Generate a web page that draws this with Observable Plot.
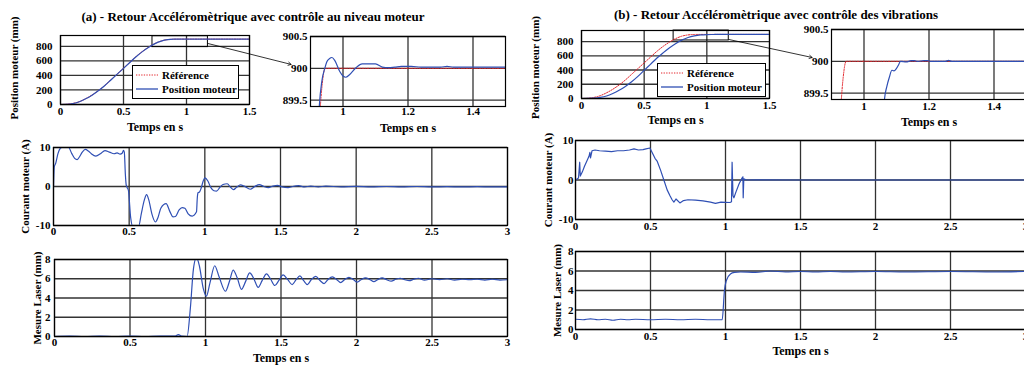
<!DOCTYPE html>
<html><head><meta charset="utf-8">
<script src="https://cdn.jsdelivr.net/npm/d3@7"></script>
<script src="https://cdn.jsdelivr.net/npm/@observablehq/plot@0.6"></script>
<style>
html,body{margin:0;padding:0;background:#fff;overflow:hidden;}
#fig{position:relative;width:1024px;height:365px;font-family:"Liberation Serif","Times New Roman",serif;font-weight:bold;color:#000;}
.title{position:absolute;font-size:13px;white-space:nowrap;transform:translate(-50%,-50%);}
.legend{position:absolute;border:1px solid #000;background:#fff;font-size:11px;box-sizing:border-box;padding:2px 0 0 2px;}
.legend .row{display:flex;align-items:center;height:14px;}
.legend svg{margin-right:3px;}
</style></head><body><div id="fig"></div>
<script>
// ---------- data ----------
const titles = ["(a) - Retour Accéléromètrique avec contrôle au niveau moteur",
                "(b) - Retour Accéléromètrique avec contrôle des vibrations"];
const legendLabels = ["Référence", "Position moteur"];
const xLabel = "Temps en s";
const yLabels = ["Position moteur (mm)", "Courant moteur (A)", "Mesure Laser (mm)"];

const ticksPosX = [0, 0.5, 1, 1.5];
const ticksPosY = [0, 200, 400, 600, 800];
const ticksZoomX = [1, 1.2, 1.4];
const ticksZoomY = [899.5, 900, 900.5];
const ticksTimeX = [0, 0.5, 1, 1.5, 2, 2.5, 3];
const ticksCurY = [-10, 0, 10];
const ticksLaserY = [0, 2, 4, 6, 8];

// reference trajectory (mm)
const reference = [[0,0],[0.05,3],[0.1,15],[0.15,40],[0.2,80],[0.25,130],[0.3,190],[0.35,260],[0.4,340],[0.45,420],[0.5,500],[0.55,580],[0.6,660],[0.65,730],[0.7,790],[0.75,840],[0.8,875],[0.85,893],[0.9,899],[0.95,900],[1.5,900]];
// (a) motor position
const positionA = [[0,0],[0.05,2],[0.1,13],[0.15,38],[0.2,78],[0.25,128],[0.3,188],[0.35,258],[0.4,338],[0.45,418],[0.5,498],[0.55,578],[0.6,658],[0.65,728],[0.7,788],[0.75,838],[0.8,873],[0.85,892],[0.9,899],[0.95,900],[1.5,900]];
// (b) motor position
const positionB = [[0,0],[0.1,5],[0.15,15],[0.2,35],[0.25,70],[0.3,115],[0.35,170],[0.4,235],[0.45,310],[0.5,395],[0.55,480],[0.6,565],[0.65,640],[0.7,710],[0.75,770],[0.8,820],[0.85,857],[0.9,880],[0.95,893],[1.0,898],[1.05,899],[1.1,899.9],[1.5,900]];

// zoom insets (mm)
const zoomReference = [[0.9,897],[0.925,899.0],[0.935,899.7],[0.945,900],[1.5,900]];
const zoomPositionA = [[0.92,898.6],[0.927,899.4],[0.935,899.8],[0.944,900.0],[0.95,900.1],[0.958,900.15],[0.966,900.17],[0.975,900.12],[0.99,899.95],[1.0,899.88],[1.008,899.86],[1.02,899.9],[1.04,900.01],[1.059,900.07],[1.08,900.07],[1.1,900.07],[1.121,900.02],[1.14,900.01],[1.16,900.02],[1.18,900.03],[1.21,900.03],[1.24,900.02],[1.3,900.02],[1.32,900.03],[1.34,900.02],[1.5,900.02]];
const zoomPositionB = [[1.058,898.8],[1.063,899.4],[1.07,899.6],[1.078,899.75],[1.086,899.86],[1.092,899.85],[1.1,899.89],[1.107,899.95],[1.112,900.0],[1.13,899.99],[1.145,900.01],[1.155,900.01],[1.165,900.0],[1.185,900.01],[1.195,900.01],[1.205,900.0],[1.25,900.0],[1.26,900.015],[1.27,900.0],[1.5,900.0]];

// (a) motor current (A)
const currentA = [[0,0],[0.005,5],[0.015,6],[0.03,8.5],[0.045,9.8],[0.055,10],[0.1,10],[0.12,8.5],[0.14,7.2],[0.156,6.9],[0.17,7.5],[0.19,8.8],[0.21,9.5],[0.23,9.1],[0.25,8.4],[0.28,7.8],[0.31,8.4],[0.34,9.2],[0.37,8.8],[0.4,8.4],[0.42,8.6],[0.44,8.3],[0.455,8.6],[0.462,9.3],[0.468,8.8],[0.475,3],[0.48,0.5],[0.487,-0.3],[0.495,-1],[0.51,-8],[0.52,-10],[0.564,-10],[0.58,-7],[0.6,-3.5],[0.615,-2.1],[0.63,-3.5],[0.65,-7],[0.674,-9.1],[0.69,-8],[0.71,-5.5],[0.744,-4.4],[0.77,-6.5],[0.79,-7.8],[0.806,-7.7],[0.83,-6],[0.85,-5.4],[0.868,-5.6],[0.89,-7],[0.916,-7.6],[0.945,-6.5],[0.95,-3],[0.955,-1.6],[0.965,-1.4],[0.975,-0.5],[0.99,1.5],[1.0,2.2],[1.02,1.4],[1.04,-0.3],[1.06,-1.1],[1.077,-1.2],[1.1,-0.2],[1.12,0.5],[1.148,0.7],[1.17,-0.2],[1.19,-0.8],[1.21,-0.2],[1.235,0.4],[1.26,0.1],[1.3,-0.7],[1.33,0],[1.36,0.5],[1.39,0],[1.42,-0.3],[1.45,0.1],[1.48,0.3],[1.51,-0.1],[1.55,-0.3],[1.58,0],[1.62,0.2],[1.66,-0.1],[1.7,0.1],[1.75,-0.1],[1.8,0.1],[1.9,-0.1],[2.0,0.05],[2.1,-0.1],[2.2,0],[2.3,-0.1],[2.4,0],[2.5,-0.1],[2.6,-0.05],[2.7,-0.1],[2.8,-0.05],[2.9,-0.1],[3.0,-0.1]];
// (b) motor current (A)
const currentB = [[0,0],[0.02,0.5],[0.028,4.5],[0.032,1],[0.045,2],[0.06,3.5],[0.078,5],[0.09,6],[0.096,7],[0.1,5.6],[0.11,7.4],[0.13,7.6],[0.16,7.4],[0.2,7.3],[0.24,7.2],[0.28,7.4],[0.32,7.4],[0.36,7.6],[0.39,7.9],[0.42,7.6],[0.45,7.7],[0.47,7.9],[0.496,8.1],[0.51,7],[0.53,5.5],[0.544,4.8],[0.567,2.5],[0.589,0],[0.611,-2.5],[0.63,-4],[0.644,-5],[0.656,-5.6],[0.67,-4.8],[0.696,-5.8],[0.72,-5.2],[0.75,-5],[0.8,-5.1],[0.85,-5.3],[0.9,-5.6],[0.933,-5.9],[0.97,-5.6],[1.03,-5.7],[1.04,-5.5],[1.044,4.5],[1.05,-4],[1.056,-4.5],[1.07,-3],[1.09,-1],[1.11,0.5],[1.116,0.8],[1.118,-4.5],[1.122,0.3],[1.14,0],[1.2,0.05],[1.5,0],[2,0],[2.5,0],[3,0]];

// (a) laser measurement (mm)
const laserA = [[0,0],[0.1,0.05],[0.2,0],[0.3,0.05],[0.4,0],[0.5,0.05],[0.6,0],[0.7,0.05],[0.8,0.05],[0.82,0.2],[0.84,0.05],[0.878,0],[0.9,3],[0.92,7],[0.94,8.2],[0.96,7.3],[0.985,5],[1.006,4.2],[1.03,5.6],[1.061,7.35],[1.09,6.2],[1.132,4.7],[1.16,5.8],[1.183,6.9],[1.21,6.1],[1.238,4.9],[1.265,5.7],[1.293,6.6],[1.32,6],[1.349,5.1],[1.375,5.8],[1.404,6.5],[1.43,6],[1.459,5.3],[1.485,5.8],[1.514,6.4],[1.545,5.9],[1.574,5.4],[1.6,5.9],[1.625,6.3],[1.65,5.8],[1.675,5.4],[1.7,5.9],[1.73,6.25],[1.76,5.8],[1.785,5.5],[1.81,5.9],[1.84,6.2],[1.87,5.9],[1.895,5.6],[1.92,5.9],[1.95,6.15],[1.98,5.9],[2.005,5.65],[2.03,5.9],[2.06,6.1],[2.09,5.9],[2.115,5.7],[2.14,5.9],[2.17,6.1],[2.2,5.9],[2.23,5.75],[2.26,5.95],[2.29,6.05],[2.32,5.9],[2.35,5.8],[2.38,5.95],[2.41,6.05],[2.45,5.85],[2.5,6.0],[2.55,5.9],[2.6,6.0],[2.65,5.85],[2.7,5.95],[2.75,5.9],[2.8,5.95],[2.85,5.85],[2.9,5.95],[2.95,5.85],[3,5.9]];
// (b) laser measurement (mm)
const laserB = [[0,1.05],[0.05,1.0],[0.1,1.1],[0.15,1.0],[0.2,1.05],[0.25,0.95],[0.3,1.05],[0.35,1.0],[0.4,1.05],[0.5,1.0],[0.6,1.05],[0.7,1.0],[0.8,1.05],[0.9,1.0],[0.978,1.0],[0.993,4],[1.005,5],[1.033,5.7],[1.06,5.85],[1.1,5.9],[1.2,5.85],[1.3,6.0],[1.4,5.9],[1.5,5.95],[1.6,5.9],[1.7,5.95],[1.8,5.9],[2,5.95],[2.2,5.9],[2.5,5.95],[2.8,5.9],[3,5.95]];

// zoom-box annotations (data units of the position plots)
const zoomBoxA = [{x1: 0.73, x2: 1.17, y1: 790, y2: 940}];
const zoomArrowA = [{x1: 1.17, y1: 840, x2: 1.83, y2: 552}];
const zoomBoxB = [{x1: 0.735, x2: 1.175, y1: 815, y2: 955}];
const zoomArrowB = [{x1: 1.175, y1: 829, x2: 1.84, y2: 576}];

// ---------- drawing ----------
const fig = document.getElementById("fig");
const BLUE = "#2f4fb4", RED = "#e3242b", GRID = "#333";

function blueLine(data, curve = "monotone-x") {
  return Plot.line(data, {x: d => d[0], y: d => d[1], stroke: BLUE, strokeWidth: 1.2, curve, clip: true});
}
function redLine(data) {
  return Plot.line(data, {x: d => d[0], y: d => d[1], stroke: RED, strokeWidth: 1, strokeDasharray: "1.3,1.3", curve: "monotone-x", clip: true});
}

function panel(o) {
  const marks = [
    Plot.gridX({ticks: o.xTicks, stroke: GRID, strokeOpacity: 1, strokeWidth: 1.3}),
    Plot.gridY({ticks: o.yTicks, stroke: GRID, strokeOpacity: 1, strokeWidth: 1.3}),
    ...(o.extra || []),
    ...o.lines,
    Plot.frame({stroke: "#000", strokeWidth: 1.2}),
    Plot.axisX({ticks: o.xTicks, tickSize: 0, tickPadding: o.xPad, tickFormat: d => String(d), fontWeight: "bold"}),
    Plot.axisY({ticks: o.yTicks, tickSize: 0, tickPadding: o.yPad, tickFormat: d => String(d), fontWeight: "bold"})
  ];
  if (o.xLabel) marks.push(Plot.text([o.xLabel], {text: d => d, frameAnchor: "bottom", dy: o.xLabelDy, lineAnchor: "middle", textAnchor: "middle", fontSize: 12, fontWeight: "bold"}));
  if (o.yLabel) marks.push(Plot.text([o.yLabel], {text: d => d, frameAnchor: "left", dx: o.yLabelDx, dy: o.yLabelDy || 0, rotate: -90, lineAnchor: "middle", textAnchor: "middle", fontSize: 11, fontWeight: "bold"}));
  const svg = Plot.plot({
    width: o.width, height: o.height,
    marginLeft: o.ml, marginRight: o.mr, marginTop: o.mt, marginBottom: o.mb,
    x: {domain: o.xDomain, label: null},
    y: {domain: o.yDomain, label: null},
    style: {fontFamily: '"Liberation Serif", "Times New Roman", serif', fontSize: "11px", fontWeight: "bold", background: "transparent", overflow: "visible", color: "#000"},
    marks
  });
  svg.style.position = "absolute";
  svg.style.left = o.left + "px";
  svg.style.top = o.top + "px";
  svg.style.maxWidth = "none";
  fig.appendChild(svg);
}

function legend(left, top, width, height) {
  const d = document.createElement("div");
  d.className = "legend";
  Object.assign(d.style, {left: left + "px", top: top + "px", width: width + "px", height: height + "px"});
  const samples = [
    `<svg width="24" height="6"><line x1="1" y1="3" x2="23" y2="3" stroke="${RED}" stroke-width="1" stroke-dasharray="1.3,1.3"/></svg>`,
    `<svg width="24" height="6"><line x1="1" y1="3" x2="23" y2="3" stroke="${BLUE}" stroke-width="1.3"/></svg>`
  ];
  d.innerHTML = legendLabels.map((l, i) => `<div class="row">${samples[i]}<span>${l}</span></div>`).join("");
  fig.appendChild(d);
}

function title(text, cx, cy) {
  const d = document.createElement("div");
  d.className = "title";
  d.textContent = text;
  d.style.left = cx + "px"; d.style.top = cy + "px";
  fig.appendChild(d);
}

// ---- panel (a) ----
panel({left: 0, top: 0, width: 300, height: 135, ml: 60, mr: 51, mt: 35, mb: 31,
  xDomain: [0, 1.5], yDomain: [0, 950], xTicks: ticksPosX, yTicks: ticksPosY, xPad: 3, yPad: 8,
  xLabel, xLabelDy: 23, yLabel: yLabels[0], yLabelDx: -46, yLabelDy: -2,
  lines: [redLine(reference), blueLine(positionA)],
  extra: [Plot.rect(zoomBoxA, {x1: "x1", x2: "x2", y1: "y1", y2: "y2", fill: "none", stroke: "#000"}),
          Plot.arrow(zoomArrowA, {x1: "x1", y1: "y1", x2: "x2", y2: "y2", stroke: "#000", strokeWidth: 0.8, headLength: 6})]});
panel({left: 260, top: 0, width: 250, height: 135, ml: 50, mr: 5, mt: 36, mb: 29,
  xDomain: [0.9, 1.5], yDomain: [899.4, 900.5], xTicks: ticksZoomX, yTicks: ticksZoomY, xPad: 1, yPad: 3,
  xLabel, xLabelDy: 22,
  lines: [redLine(zoomReference), blueLine(zoomPositionA)]});
panel({left: 0, top: 130, width: 520, height: 115, ml: 53, mr: 13, mt: 17, mb: 20,
  xDomain: [0, 3], yDomain: [-10, 10], xTicks: ticksTimeX, yTicks: ticksCurY, xPad: 2, yPad: 3,
  yLabel: yLabels[1], yLabelDx: -28,
  lines: [blueLine(currentA)]});
panel({left: 0, top: 245, width: 520, height: 120, ml: 54, mr: 13, mt: 14, mb: 29,
  xDomain: [0, 3], yDomain: [0, 8], xTicks: ticksTimeX, yTicks: ticksLaserY, xPad: 2, yPad: 4,
  xLabel, xLabelDy: 22, yLabel: yLabels[2], yLabelDx: -17,
  lines: [blueLine(laserA)]});

// ---- panel (b) ----
panel({left: 520, top: 0, width: 300, height: 130, ml: 61, mr: 51, mt: 30, mb: 32,
  xDomain: [0, 1.5], yDomain: [0, 955], xTicks: ticksPosX, yTicks: ticksPosY, xPad: 3, yPad: 8,
  xLabel, xLabelDy: 22, yLabel: yLabels[0], yLabelDx: -46, yLabelDy: 3,
  lines: [redLine(reference), blueLine(positionB)],
  extra: [Plot.rect(zoomBoxB, {x1: "x1", x2: "x2", y1: "y1", y2: "y2", fill: "none", stroke: "#000"}),
          Plot.arrow(zoomArrowB, {x1: "x1", y1: "y1", x2: "x2", y2: "y2", stroke: "#000", strokeWidth: 0.8, headLength: 6})]});
panel({left: 780, top: 0, width: 250, height: 130, ml: 51, mr: 4, mt: 29, mb: 31,
  xDomain: [0.9, 1.5], yDomain: [899.4, 900.5], xTicks: ticksZoomX, yTicks: ticksZoomY, xPad: 3, yPad: 3,
  xLabel, xLabelDy: 23,
  lines: [redLine(zoomReference), blueLine(zoomPositionB)]});
panel({left: 520, top: 125, width: 510, height: 115, ml: 55, mr: 5, mt: 15, mb: 21,
  xDomain: [0, 3], yDomain: [-10, 10], xTicks: ticksTimeX, yTicks: ticksCurY, xPad: 3, yPad: 2,
  yLabel: yLabels[1], yLabelDx: -27,
  lines: [blueLine(currentB, "linear")]});
panel({left: 520, top: 240, width: 510, height: 125, ml: 55, mr: 5, mt: 11, mb: 36,
  xDomain: [0, 3], yDomain: [0, 8], xTicks: ticksTimeX, yTicks: ticksLaserY, xPad: 3, yPad: 2,
  xLabel, xLabelDy: 22, yLabel: yLabels[2], yLabelDx: -18,
  lines: [blueLine(laserB)]});

legend(132, 65, 107, 34);
legend(657, 63, 109, 34);
title(titles[0], 253, 17);
title(titles[1], 776, 15);
</script>
</body></html>
